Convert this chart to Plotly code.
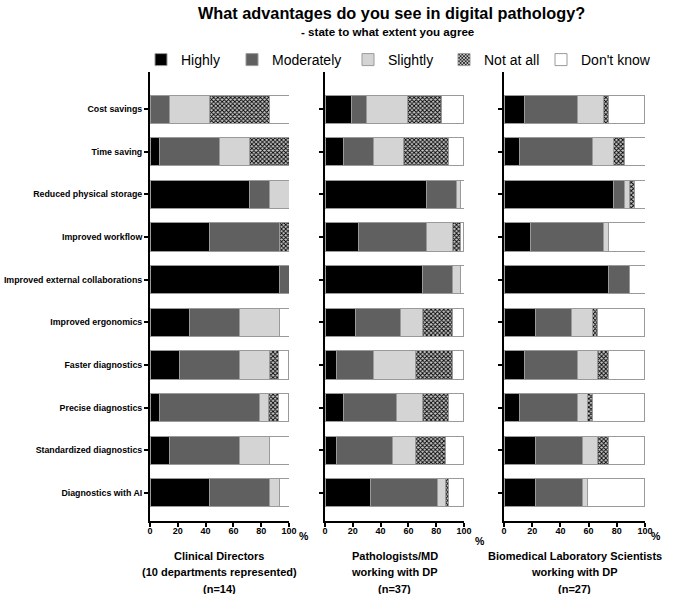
import plotly.graph_objects as go

categories = ["Cost savings", "Time saving", "Reduced physical storage", "Improved workflow",
              "Improved external collaborations", "Improved ergonomics", "Faster diagnostics",
              "Precise diagnostics", "Standardized diagnostics", "Diagnostics with AI"]
levels = ["Highly", "Moderately", "Slightly", "Not at all", "Don't know"]

# Clinical Directors (n=14)
cd_highly     = [0, 7.1, 71.4, 42.9, 92.9, 28.6, 21.4, 7.1, 14.3, 42.9]
cd_moderately = [14.3, 42.9, 14.3, 50.0, 7.1, 35.7, 42.9, 71.4, 50.0, 42.9]
cd_slightly   = [28.6, 21.4, 14.3, 0, 0, 28.6, 21.4, 7.1, 21.4, 7.1]
cd_notatall   = [42.9, 28.6, 0, 7.1, 0, 0, 7.1, 7.1, 0, 0]
cd_dontknow   = [14.3, 0, 0, 0, 0, 7.1, 7.1, 7.1, 14.3, 7.1]

# Pathologists/MD (n=37)
pm_highly     = [18.9, 13.5, 73.0, 24.3, 70.3, 21.6, 8.1, 13.5, 8.1, 32.4]
pm_moderately = [10.8, 21.6, 21.6, 48.6, 21.6, 32.4, 27.0, 37.8, 40.5, 48.6]
pm_slightly   = [29.7, 21.6, 2.7, 18.9, 5.4, 16.2, 29.7, 18.9, 16.2, 5.4]
pm_notatall   = [24.3, 32.4, 0, 5.4, 0, 21.6, 27.0, 18.9, 21.6, 2.7]
pm_dontknow   = [16.2, 10.8, 2.7, 2.7, 2.7, 8.1, 8.1, 10.8, 13.5, 10.8]

# Biomedical Laboratory Scientists (n=27)
bl_highly     = [14.8, 11.1, 77.8, 18.5, 74.1, 22.2, 14.8, 11.1, 22.2, 22.2]
bl_moderately = [37.0, 51.9, 7.4, 51.9, 14.8, 25.9, 37.0, 40.7, 33.3, 33.3]
bl_slightly   = [18.5, 14.8, 3.7, 3.7, 0, 14.8, 14.8, 7.4, 11.1, 3.7]
bl_notatall   = [3.7, 7.4, 3.7, 0, 0, 3.7, 7.4, 3.7, 7.4, 0]
bl_dontknow   = [25.9, 14.8, 7.4, 25.9, 11.1, 33.3, 25.9, 37.0, 25.9, 40.7]

panel_titles = [["Clinical Directors", "(10 departments represented)", "(n=14)"],
                ["Pathologists/MD", "working with DP", "(n=37)"],
                ["Biomedical Laboratory Scientists", "working with DP", "(n=27)"]]
x_ticks = [0, 20, 40, 60, 80, 100]

panels = [
    [cd_highly, cd_moderately, cd_slightly, cd_notatall, cd_dontknow],
    [pm_highly, pm_moderately, pm_slightly, pm_notatall, pm_dontknow],
    [bl_highly, bl_moderately, bl_slightly, bl_notatall, bl_dontknow],
]

W, H = 685, 594
def fx(px):
    return px / W
def fy(py):
    return 1 - py / H

FONT = "Liberation Sans, Arial, sans-serif"
colors = ["#000000", "#606060", "#d4d4d4", "#ffffff", "#ffffff"]
xdom_px = [(150, 289), (325, 464), (504, 645)]
pct_px = [(304, 536), (480, 541), (656, 536)]
legend_sym_px = [155, 246, 362, 458, 555]
ytop, ybot = 72, 521

fig = go.Figure()
for p, series in enumerate(panels):
    xa = "x" if p == 0 else f"x{p+1}"
    ya = "y" if p == 0 else f"y{p+1}"
    for i, (lev, vals) in enumerate(zip(levels, series)):
        marker = dict(color=colors[i], line=dict(color="#9a9a9a", width=1))
        if lev == "Not at all":
            marker["pattern"] = dict(shape="x", size=3, solidity=0.5,
                                     fgcolor="#000000", bgcolor="#c8c8c8", fillmode="replace")
        fig.add_trace(go.Bar(
            x=vals, y=categories, orientation="h", name=lev, marker=marker,
            width=0.66, xaxis=xa, yaxis=ya, showlegend=(p == 0),
            legend="legend" if i == 0 else f"legend{i+1}",
            legendgroup=lev))

fig.update_layout(barmode="stack")

for p in range(3):
    x0, x1 = xdom_px[p]
    xkey = "xaxis" if p == 0 else f"xaxis{p+1}"
    ykey = "yaxis" if p == 0 else f"yaxis{p+1}"
    fig.layout[xkey] = dict(
        domain=[fx(x0), fx(x1)], range=[0, 100], tickvals=x_ticks,
        showline=True, linecolor="black", linewidth=2, ticks="outside",
        ticklen=4, tickwidth=1.5, tickcolor="black", showgrid=False, zeroline=False,
        ticklabelstandoff=-4, automargin=False,
        tickfont=dict(family=FONT, size=9, color="black", weight="bold"),
        anchor="y" if p == 0 else f"y{p+1}", fixedrange=True)
    fig.layout[ykey] = dict(
        domain=[fy(ybot), fy(ytop)], type="category",
        categoryorder="array", categoryarray=categories,
        range=[9.66, -0.87], showline=True, linecolor="black", linewidth=2,
        ticks="outside", ticklen=4, tickwidth=1.5, tickcolor="black",
        showticklabels=(p == 0), showgrid=False, zeroline=False, automargin=False,
        tickfont=dict(family=FONT, size=8.8, color="black", weight="bold"),
        anchor="x" if p == 0 else f"x{p+1}", fixedrange=True)
    px_, py_ = pct_px[p]
    fig.add_annotation(text="%", xref="paper", yref="paper",
                       x=fx(px_), y=fy(py_), showarrow=False,
                       font=dict(family=FONT, size=10.5, color="black", weight="bold"),
                       xanchor="center", yanchor="middle")
    cx = (x0 + x1) / 2
    for j, line in enumerate(panel_titles[p]):
        fig.add_annotation(text=line, xref="paper", yref="paper",
                           x=fx(cx), y=fy(556 + 16.3 * j), showarrow=False,
                           font=dict(family=FONT, size=11, color="black", weight="bold"),
                           xanchor="center", yanchor="middle")

fig.add_annotation(text="What advantages do you see in digital pathology?",
                   xref="paper", yref="paper", x=fx(391), y=fy(13), showarrow=False,
                   font=dict(family=FONT, size=16.3, color="black", weight="bold"),
                   xanchor="center", yanchor="middle")
fig.add_annotation(text="- state to what extent you agree",
                   xref="paper", yref="paper", x=fx(388), y=fy(31), showarrow=False,
                   font=dict(family=FONT, size=11.6, color="black", weight="bold"),
                   xanchor="center", yanchor="middle")

legend_layout = {}
for i, sx in enumerate(legend_sym_px):
    key = "legend" if i == 0 else f"legend{i+1}"
    legend_layout[key] = dict(orientation="h", x=fx(sx - 14), y=fy(60),
                              xanchor="left", yanchor="middle",
                              font=dict(family=FONT, size=14, color="black"),
                              itemwidth=30, bgcolor="rgba(0,0,0,0)")

fig.update_layout(
    width=W, height=H, margin=dict(l=0, r=0, t=0, b=0, autoexpand=False),
    paper_bgcolor="white", plot_bgcolor="white",
    font=dict(family=FONT, color="black"),
    bargap=0.34,
    **legend_layout,
)

fig.write_html("out.html", config={"displayModeBar": False},
               post_script="document.body.style.margin='0';")
